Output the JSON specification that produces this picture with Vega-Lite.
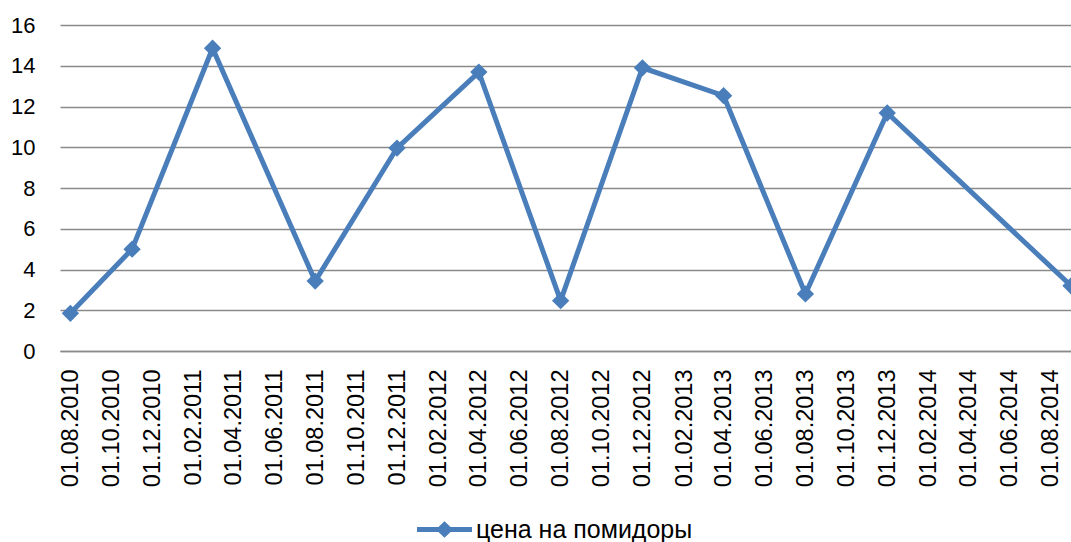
{
  "$schema": "https://vega.github.io/schema/vega-lite/v6.json",
  "width": 1011,
  "height": 326,
  "autosize": {"type": "none"},
  "padding": {"left": 60, "top": 25, "right": 0, "bottom": 191},
  "background": "white",
  "config": {
    "view": {"stroke": null},
    "font": "Liberation Sans",
    "legend": {"symbolBaseFillColor": "#4A7EBB"}
  },
  "data": {
    "values": [
      {"date": "2010-08-01", "price": 1.85, "series": "цена на помидоры"},
      {"date": "2010-11-01", "price": 5.0, "series": "цена на помидоры"},
      {"date": "2011-03-01", "price": 14.86, "series": "цена на помидоры"},
      {"date": "2011-08-01", "price": 3.43, "series": "цена на помидоры"},
      {"date": "2011-12-01", "price": 9.96, "series": "цена на помидоры"},
      {"date": "2012-04-01", "price": 13.69, "series": "цена на помидоры"},
      {"date": "2012-08-01", "price": 2.47, "series": "цена на помидоры"},
      {"date": "2012-12-01", "price": 13.9, "series": "цена на помидоры"},
      {"date": "2013-04-01", "price": 12.53, "series": "цена на помидоры"},
      {"date": "2013-08-01", "price": 2.8, "series": "цена на помидоры"},
      {"date": "2013-12-01", "price": 11.68, "series": "цена на помидоры"},
      {"date": "2014-09-01", "price": 3.2, "series": "цена на помидоры"}
    ]
  },
  "mark": {
    "type": "line",
    "strokeWidth": 5,
    "point": {"shape": "diamond", "size": 300, "filled": true, "opacity": 1}
  },
  "encoding": {
    "x": {
      "field": "date",
      "type": "temporal",
      "scale": {
        "type": "utc",
        "domain": [
          {"year": 2010, "month": 7, "date": 16, "hours": 12, "utc": true},
          {"year": 2014, "month": 9, "date": 1, "utc": true}
        ]
      },
      "axis": {
        "title": null,
        "labelExpr": "utcFormat(datum.value, '%d.%m.%Y')",
        "values": [
          {"year": 2010, "month": 8, "date": 1, "utc": true},
          {"year": 2010, "month": 10, "date": 1, "utc": true},
          {"year": 2010, "month": 12, "date": 1, "utc": true},
          {"year": 2011, "month": 2, "date": 1, "utc": true},
          {"year": 2011, "month": 4, "date": 1, "utc": true},
          {"year": 2011, "month": 6, "date": 1, "utc": true},
          {"year": 2011, "month": 8, "date": 1, "utc": true},
          {"year": 2011, "month": 10, "date": 1, "utc": true},
          {"year": 2011, "month": 12, "date": 1, "utc": true},
          {"year": 2012, "month": 2, "date": 1, "utc": true},
          {"year": 2012, "month": 4, "date": 1, "utc": true},
          {"year": 2012, "month": 6, "date": 1, "utc": true},
          {"year": 2012, "month": 8, "date": 1, "utc": true},
          {"year": 2012, "month": 10, "date": 1, "utc": true},
          {"year": 2012, "month": 12, "date": 1, "utc": true},
          {"year": 2013, "month": 2, "date": 1, "utc": true},
          {"year": 2013, "month": 4, "date": 1, "utc": true},
          {"year": 2013, "month": 6, "date": 1, "utc": true},
          {"year": 2013, "month": 8, "date": 1, "utc": true},
          {"year": 2013, "month": 10, "date": 1, "utc": true},
          {"year": 2013, "month": 12, "date": 1, "utc": true},
          {"year": 2014, "month": 2, "date": 1, "utc": true},
          {"year": 2014, "month": 4, "date": 1, "utc": true},
          {"year": 2014, "month": 6, "date": 1, "utc": true},
          {"year": 2014, "month": 8, "date": 1, "utc": true}
        ],
        "labelAngle": -90,
        "labelFontSize": 23.5,
        "labelFont": "Liberation Sans",
        "labelColor": "black",
        "labelPadding": 18,
        "labelOverlap": false,
        "labelBound": false,
        "labelFlush": false,
        "ticks": false,
        "domain": true,
        "domainColor": "#8a8a8a",
        "domainWidth": 1.5,
        "grid": false
      }
    },
    "y": {
      "field": "price",
      "type": "quantitative",
      "scale": {"domain": [0, 16], "nice": false, "zero": true},
      "axis": {
        "title": null,
        "values": [0, 2, 4, 6, 8, 10, 12, 14, 16],
        "labelFontSize": 22,
        "labelFont": "Liberation Sans",
        "labelColor": "black",
        "labelPadding": 25,
        "ticks": false,
        "domain": false,
        "grid": true,
        "gridColor": "#8a8a8a",
        "gridWidth": 1.5
      }
    },
    "color": {
      "field": "series",
      "type": "nominal",
      "scale": {"range": ["#4A7EBB"]},
      "legend": {
        "title": null,
        "orient": "none",
        "legendX": 357,
        "legendY": 477,
        "symbolType": "M-1,-0.09L-0.22,-0.09L0,-0.3L0.22,-0.09L1,-0.09L1,0.09L0.22,0.09L0,0.3L-0.22,0.09L-1,0.09Z",
        "symbolSize": 3025,
        "symbolFillColor": "#4A7EBB",
        "symbolStrokeColor": "#4A7EBB",
        "symbolStrokeWidth": 0,
        "symbolOpacity": 1,
        "labelFontSize": 25,
        "labelFont": "Liberation Sans",
        "labelColor": "black",
        "labelOffset": 4,
        "labelLimit": 500
      }
    }
  }
}
